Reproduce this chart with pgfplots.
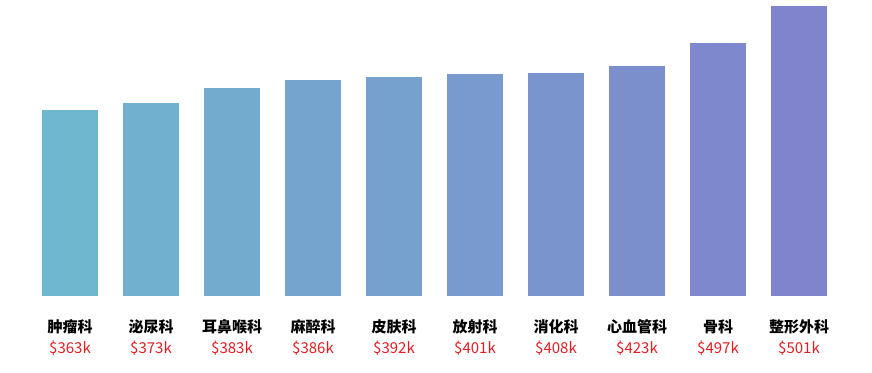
\documentclass[border=0pt]{standalone}
\usepackage{pgfplots}
\pgfplotsset{compat=1.18}
\usepackage{fontspec}
\setmainfont{Noto Sans CJK SC}
\definecolor{cA}{RGB}{111,182,207}
\definecolor{cB}{RGB}{128,132,205}
\definecolor{lab}{RGB}{226,30,36}
\begin{document}
\begin{tikzpicture}
\begin{axis}[
  scale only axis, width=872pt, height=372pt,
  xmin=0, xmax=872, ymin=-76, ymax=296,
  axis line style={draw=none}, major tick length=0pt,
  ytick=\empty,
  xtick={70,151,232,313,394,475,556,637,718,799},
  xticklabels={
    {{\bfseries 肿瘤科}\\\textcolor{lab}{\$363k}},
    {{\bfseries 泌尿科}\\\textcolor{lab}{\$373k}},
    {{\bfseries 耳鼻喉科}\\\textcolor{lab}{\$383k}},
    {{\bfseries 麻醉科}\\\textcolor{lab}{\$386k}},
    {{\bfseries 皮肤科}\\\textcolor{lab}{\$392k}},
    {{\bfseries 放射科}\\\textcolor{lab}{\$401k}},
    {{\bfseries 消化科}\\\textcolor{lab}{\$408k}},
    {{\bfseries 心血管科}\\\textcolor{lab}{\$423k}},
    {{\bfseries 骨科}\\\textcolor{lab}{\$497k}},
    {{\bfseries 整形外科}\\\textcolor{lab}{\$501k}}},
  xticklabel style={anchor=center, yshift=34.5pt, align=center,
    font=\fontsize{15}{21}\selectfont},
  every axis plot/.append style={ybar, bar width=56, bar shift=0pt, draw=none},
]
\addplot[fill=cB!0!cA]   coordinates {(70,186)};
\addplot[fill=cB!11!cA]  coordinates {(151,193.3)};
\addplot[fill=cB!22!cA]  coordinates {(232,208)};
\addplot[fill=cB!33!cA]  coordinates {(313,215.7)};
\addplot[fill=cB!44!cA]  coordinates {(394,219.3)};
\addplot[fill=cB!56!cA]  coordinates {(475,222)};
\addplot[fill=cB!67!cA]  coordinates {(556,223.3)};
\addplot[fill=cB!78!cA]  coordinates {(637,230.3)};
\addplot[fill=cB!89!cA]  coordinates {(718,252.7)};
\addplot[fill=cB!100!cA] coordinates {(799,290)};
\end{axis}
\end{tikzpicture}
\end{document}
